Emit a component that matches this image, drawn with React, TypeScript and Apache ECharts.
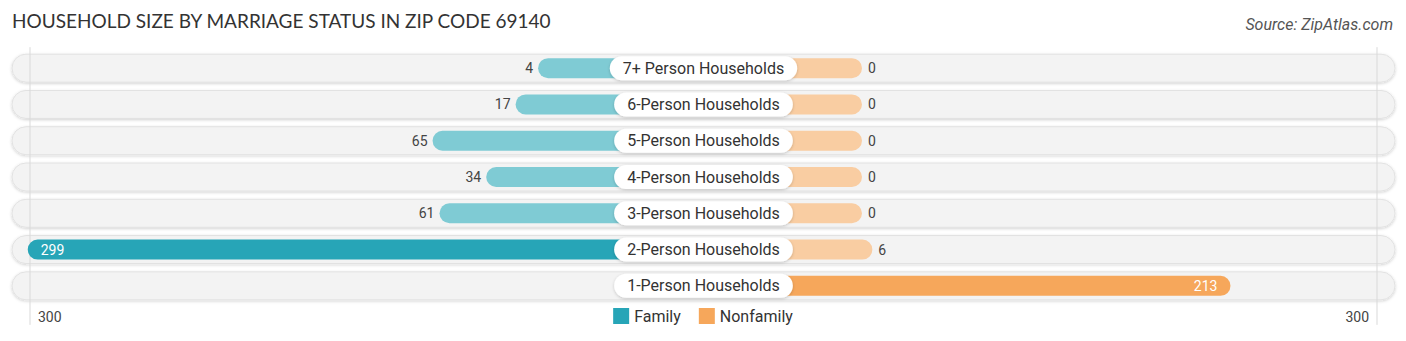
import React, { useEffect, useRef } from 'react';
import * as echarts from 'echarts';

const categories = [
  '7+ Person Households',
  '6-Person Households',
  '5-Person Households',
  '4-Person Households',
  '3-Person Households',
  '2-Person Households',
  '1-Person Households',
];
const familyValues: (number | null)[] = [4, 17, 65, 34, 61, 299, null];
const nonfamilyValues: number[] = [0, 0, 0, 0, 0, 6, 213];
const axisMax = 300;
const axisTickLabels = ['300', '300'];

const OFF = 91.6; // room left for the centred category label (in value units)
const EXT = axisMax + OFF;

const FAM_DARK = '#27a5b7';
const FAM_LIGHT = '#7fcbd4';
const NON_DARK = '#f6a75b';
const NON_LIGHT = '#f9cda2';

export default function App() {
  const ref = useRef<HTMLDivElement>(null);
  useEffect(() => {
    const chart = echarts.init(ref.current!, null, { renderer: 'svg' });
    const option: any = {
      animation: false,
      title: [
        {
          text: 'HOUSEHOLD SIZE BY MARRIAGE STATUS IN ZIP CODE 69140',
          left: 12,
          top: 11,
          padding: 0,
          textStyle: { fontSize: 19, fontWeight: 'normal', fontFamily: 'Lato', color: '#333' },
        },
        {
          text: 'Source: ZipAtlas.com',
          right: 13,
          top: 16,
          padding: 0,
          textStyle: { fontSize: 16, fontWeight: 'normal', fontStyle: 'italic', fontFamily: 'Roboto', color: '#555' },
        },
      ],
      legend: {
        data: ['Family', 'Nonfamily'],
        left: 'center',
        top: 303,
        icon: 'rect',
        itemWidth: 16,
        itemHeight: 16,
        itemGap: 18,
        textStyle: { fontSize: 16, fontFamily: 'Roboto', color: '#333' },
      },
      grid: { left: 26, right: 25, top: 50, bottom: 37 },
      xAxis: {
        type: 'value',
        min: -EXT,
        max: EXT,
        interval: EXT,
        axisLine: { show: false },
        axisTick: { show: false },
        splitLine: { show: false },
        axisLabel: {
          showMinLabel: true,
          showMaxLabel: true,
          alignMinLabel: 'left',
          alignMaxLabel: 'right',
          padding: [0, 12, 0, 12],
          margin: 6,
          fontSize: 14,
          fontFamily: 'Roboto',
          color: '#444',
          formatter: (v: number) => (v < 0 ? axisTickLabels[0] : v > 0 ? axisTickLabels[1] : ''),
        },
      },
      yAxis: {
        type: 'category',
        data: categories,
        inverse: true,
        show: false,
      },
      series: [
        {
          type: 'custom',
          name: 'pills',
          silent: true,
          z: 1,
          data: categories.map((_, i) => [0, i]),
          encode: { x: 0, y: 1 },
          renderItem: (params: any, api: any) => {
            const i = params.dataIndex;
            const l = api.coord([-EXT, i]);
            const r = api.coord([EXT, i]);
            const h = 28;
            return {
              type: 'rect',
              shape: { x: l[0] - 14, y: l[1] - h / 2, width: r[0] - l[0] + 28, height: h, r: h / 2 },
              style: {
                fill: '#f3f3f3',
                stroke: '#e2e2e2',
                lineWidth: 1,
                shadowBlur: 3,
                shadowColor: 'rgba(0,0,0,0.18)',
                shadowOffsetY: 1,
              },
            };
          },
        },
        {
          type: 'custom',
          name: 'edges',
          silent: true,
          z: 1.5,
          data: [[0, 0]],
          encode: { x: 0, y: 1 },
          renderItem: (params: any, api: any) => {
            const top = api.coord([-EXT, 0]);
            const bot = api.coord([EXT, categories.length - 1]);
            const y1 = top[1] - 21;
            const y2 = bot[1] + 39;
            const xl = top[0] + 4;
            const xr = bot[0] - 4;
            return {
              type: 'group',
              children: [
                { type: 'line', shape: { x1: xl, y1, x2: xl, y2 }, style: { stroke: '#d9d9d9', lineWidth: 1 } },
                { type: 'line', shape: { x1: xr, y1, x2: xr, y2 }, style: { stroke: '#d9d9d9', lineWidth: 1 } },
              ],
            };
          },
        },
        {
          type: 'bar',
          name: 'Family',
          barWidth: 20,
          barGap: '-100%',
          z: 2,
          itemStyle: { color: FAM_DARK, borderRadius: 10 },
          data: familyValues.map((v) => {
            if (v == null) return '-';
            const inside = v > 150;
            return {
              value: -(v + OFF),
              itemStyle: { color: inside ? FAM_DARK : FAM_LIGHT },
              label: {
                show: true,
                position: inside ? 'insideLeft' : 'left',
                distance: inside ? 13 : 5,
                formatter: String(v),
                fontSize: 14,
                fontFamily: 'Roboto',
                color: inside ? '#fff' : '#444',
              },
            };
          }),
        },
        {
          type: 'bar',
          name: 'Nonfamily',
          barWidth: 20,
          barGap: '-100%',
          z: 2,
          itemStyle: { color: NON_DARK, borderRadius: 10 },
          data: nonfamilyValues.map((v) => {
            const inside = v > 150;
            return {
              value: v + OFF,
              itemStyle: { color: inside ? NON_DARK : NON_LIGHT },
              label: {
                show: true,
                position: inside ? 'insideRight' : 'right',
                distance: inside ? 13 : 6,
                formatter: String(v),
                fontSize: 14,
                fontFamily: 'Roboto',
                color: inside ? '#fff' : '#444',
              },
            };
          }),
        },
        {
          type: 'custom',
          name: 'labels',
          silent: true,
          z: 3,
          data: categories.map((_, i) => [0, i]),
          encode: { x: 0, y: 1 },
          renderItem: (params: any, api: any) => {
            const i = params.dataIndex;
            const p = api.coord([0, i]);
            return {
              type: 'text',
              x: p[0],
              y: p[1],
              style: {
                text: categories[i],
                align: 'center',
                verticalAlign: 'middle',
                fontSize: 16,
                fontFamily: 'Roboto',
                fill: '#333',
                backgroundColor: '#fff',
                borderRadius: 12,
                padding: [4, 13],
                shadowBlur: 3,
                shadowColor: 'rgba(0,0,0,0.2)',
                shadowOffsetY: 1,
              },
            };
          },
        },
      ],
    };
    chart.setOption(option);
    return () => chart.dispose();
  }, []);
  return <div ref={ref} style={{ position: 'absolute', left: 0, top: 0, width: 1406, height: 341 }} />;
}
